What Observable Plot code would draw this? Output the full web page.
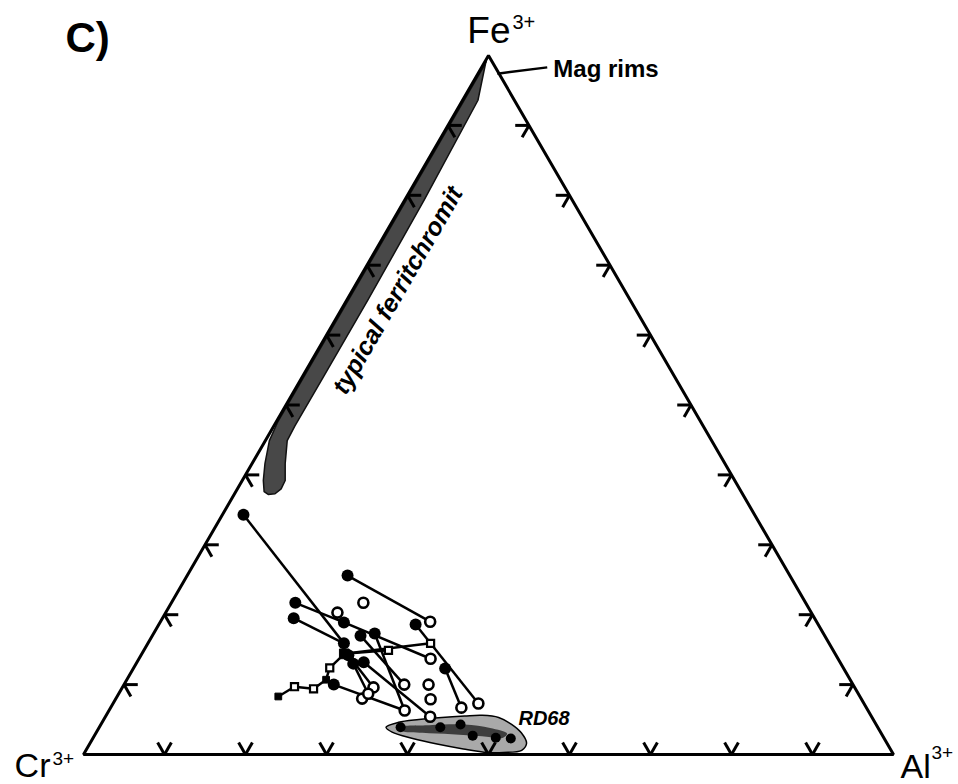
<!DOCTYPE html>
<html><head><meta charset="utf-8">
<script src="https://cdn.jsdelivr.net/npm/d3@7"></script>
<script src="https://cdn.jsdelivr.net/npm/@observablehq/plot@0.6"></script>
<style>body{margin:0;background:#fff;}</style>
</head><body><div id="chart"></div>
<script>
// ---- data (ternary %, Fe3+ and Al3+; Cr3+ = 100 - Fe - Al) ----
const vertexNames = ["Cr", "Al", "Fe"];
const vertexFe = [0, 0, 100];
const vertexAl = [0, 100, 0];
const tickValues = [10, 20, 30, 40, 50, 60, 70, 80, 90];

const pointId   = ["P1","P2","P3","P4","P5","P6","P7","P8","P9","P10","P11","P12","P13","P14","P15","P16","P17","P18","P19","P20","P21","P22","P23","P24","P25","P26","P27","P28","S1","S2","S3","S4","S5","S6","S7","S8"];
const pointType = ["core","core","core","rim","rim","core","core","rim","core","core","rim","core","rim","core","rim","core","core","core","rim","rim","rim","core","rim","core","rim","rim","rim","rim","sqCore","sqRim","sqRim","sqCore","sqRim","sqBig","sqRim","sqRim"];
const pointFe   = [34.3,15.9,25.6,19.0,21.7,21.7,18.9,13.7,19.5,17.3,6.3,17.0,10.0,10.0,8.0,14.2,13.0,13.2,9.6,8.7,5.4,18.6,7.3,12.3,6.7,10.0,7.9,20.3,8.3,9.7,9.4,10.7,12.4,14.4,14.9,15.9];
const pointAl   = [2.6,24.2,19.8,33.3,23.7,15.3,22.7,36.0,16.2,27.3,36.5,25.7,34.6,25.9,30.4,25.6,26.8,28.0,31.0,30.8,40.1,31.7,45.1,38.5,43.3,37.6,38.9,21.2,19.9,21.2,23.7,24.6,24.2,25.0,30.2,34.9];

const segFrom = ["P1","P3","P6","P7","P9","P10","P12","S1","S2","S3","S4","P14","S4","S5","S6","S6","P16","P17","P18","P22","P24"];
const segTo   = ["P2","P4","P7","P8","P2","P11","P13","S2","S3","S4","P14","P11","S5","S6","S7","S8","P19","P20","P21","P23","P25"];

// RD68 field
const rd68Fe = [3.9,4.6,5.0,5.3,5.5,5.6,5.3,4.3,3.1,1.6,0.6,0.3,0.3,0.8,1.5,2.3,3.2];
const rd68Al = [35.4,36.6,38.9,41.6,44.3,46.4,48.6,50.7,52.5,53.9,53.8,51.7,49.7,46.5,42.9,39.5,36.5];
const rd68CoreFe = [3.9,4.2,4.3,3.8,3.0,2.4,2.6,2.9,3.1,3.4];
const rd68CoreAl = [37.2,40.6,44.9,48.3,50.8,50.6,47.9,44.0,40.3,37.6];
const rd68DotFe = [3.9,3.9,4.3,2.7,2.4,2.3];
const rd68DotAl = [37.2,42.1,44.4,46.7,49.7,51.6];

// typical ferritchromit band
const bandFe = [99.5,93.6,79.3,65.0,53.5,47.0,44.9,41.6,39.2,38.0,37.3,37.2,37.6,39.2,41.6,44.9,47.5,99.0];
const bandAl = [0,1.9,2.4,2.6,2.6,2.6,2.7,4.1,5.3,5.4,5.0,4.2,3.5,2.6,1.6,0.5,0.2,0.2];

// annotations
const magLeaderFe = [97.4, 98.3];
const magLeaderAl = [2.4, 8.1];
const magLabel = {fe: 98.0, al: 9.0, text: "Mag rims"};
const bandLabel = {fe: 66.4, al: 5.6, text: "typical ferritchromit"};
const rdLabel = {fe: 5.2, al: 51.1, text: "RD68"};
const panelLabel = "C)";

// ---- helpers ----
const X = d => d.al / 100 + d.fe / 200;
const Y = d => d.fe / 100;
const P = (fe, al) => ({fe, al});

const vertices = vertexNames.map((n, i) => ({name: n, fe: vertexFe[i], al: vertexAl[i]}));
const points = pointId.map((id, i) => ({id, type: pointType[i], fe: pointFe[i], al: pointAl[i]}));
const byId = new Map(points.map(p => [p.id, p]));
const segs = segFrom.map((a, i) => [byId.get(a), byId.get(segTo[i])]);
const rd68 = rd68Fe.map((f, i) => P(f, rd68Al[i]));
const rd68Core = rd68CoreFe.map((f, i) => P(f, rd68CoreAl[i]));
const rd68Dots = rd68DotFe.map((f, i) => P(f, rd68DotAl[i]));
const band = bandFe.map((f, i) => P(f, bandAl[i]));
const leader = [[P(magLeaderFe[0], magLeaderAl[0]), P(magLeaderFe[1], magLeaderAl[1])]];

const tl = 1.7;
const ticks = [];
for (const t of tickValues) {
  ticks.push([P(0, t), P(tl, t)], [P(0, t), P(tl, t - tl)]);                 // bottom
  ticks.push([P(t, 0), P(t, tl)], [P(t, 0), P(t - tl, tl)]);                 // left
  ticks.push([P(t, 100 - t), P(t, 100 - t - tl)], [P(t, 100 - t), P(t - tl, 100 - t)]); // right
}
const tri = [vertices[0], vertices[1], vertices[2]];

const FONT = "Liberation Sans, Arial, Helvetica, sans-serif";
const lk = {x1: d => X(d[0]), y1: d => Y(d[0]), x2: d => X(d[1]), y2: d => Y(d[1])};

const chart = Plot.plot({
  width: 958, height: 784, margin: 0,
  x: {domain: [0, 1], range: [83, 893], axis: null},
  y: {domain: [0, 1], range: [754, 55], axis: null},
  style: {fontFamily: FONT, background: "white"},
  marks: [
    Plot.line(band, {x: X, y: Y, curve: "linear-closed", fill: "#484848", stroke: "#111", strokeWidth: 1.5}),
    Plot.line(rd68, {x: X, y: Y, curve: "catmull-rom-closed", fill: "#a9a9a9", stroke: "black", strokeWidth: 1.5}),
    Plot.line(rd68Core, {x: X, y: Y, curve: "catmull-rom-closed", fill: "#2a2a2a", fillOpacity: 0.85, stroke: "none"}),
    Plot.dot(rd68Dots, {x: X, y: Y, r: 5, fill: "black"}),
    Plot.line(tri, {x: X, y: Y, curve: "linear-closed", stroke: "black", strokeWidth: 3, strokeLinejoin: "miter"}),
    Plot.link(ticks, {...lk, stroke: "black", strokeWidth: 3}),
    Plot.link(segs, {...lk, stroke: "black", strokeWidth: 2.5}),
    Plot.link(leader, {...lk, stroke: "black", strokeWidth: 2.5}),
    Plot.dot(points.filter(d => d.type === "core"), {x: X, y: Y, r: 6, fill: "black"}),
    Plot.dot(points.filter(d => d.type === "rim"), {x: X, y: Y, r: 5, fill: "white", stroke: "black", strokeWidth: 2.6}),
    Plot.dot(points.filter(d => d.type === "sqRim"), {x: X, y: Y, symbol: "square", r: 4, fill: "white", stroke: "black", strokeWidth: 2.2}),
    Plot.dot(points.filter(d => d.type === "sqCore"), {x: X, y: Y, symbol: "square", r: 3.8, fill: "black", stroke: "black", strokeWidth: 1}),
    Plot.dot(points.filter(d => d.type === "sqBig"), {x: X, y: Y, symbol: "square", r: 5.5, fill: "black", stroke: "black", strokeWidth: 1}),
    // vertex labels
    Plot.text([vertices[2]], {x: X, y: Y, text: d => d.name, textAnchor: "end", dx: 22, dy: -24, fontSize: 37, fill: "black"}),
    Plot.text([vertices[2]], {x: X, y: Y, text: () => "3+", textAnchor: "start", dx: 24, dy: -33, fontSize: 20, fill: "black"}),
    Plot.text([vertices[0]], {x: X, y: Y, text: d => d.name, textAnchor: "end", dx: -33, dy: 12, fontSize: 34, fill: "black"}),
    Plot.text([vertices[0]], {x: X, y: Y, text: () => "3+", textAnchor: "start", dx: -31, dy: 4, fontSize: 19, fill: "black"}),
    Plot.text([vertices[1]], {x: X, y: Y, text: d => d.name, textAnchor: "start", dx: 7, dy: 13, fontSize: 34, fill: "black"}),
    Plot.text([vertices[1]], {x: X, y: Y, text: () => "3+", textAnchor: "start", dx: 38, dy: -2, fontSize: 19, fill: "black"}),
    // annotations
    Plot.text([magLabel], {x: X, y: Y, text: "text", textAnchor: "start", fontSize: 24, fontWeight: "bold", fill: "black"}),
    Plot.text([bandLabel], {x: X, y: Y, text: "text", rotate: -60, fontSize: 25, fontWeight: "bold", fontStyle: "italic", fill: "black"}),
    Plot.text([rdLabel], {x: X, y: Y, text: "text", textAnchor: "start", fontSize: 20, fontWeight: "bold", fontStyle: "italic", fill: "black"}),
    Plot.text([panelLabel], {frameAnchor: "top-left", text: d => d, dx: 65, dy: 22, fontSize: 42, fontWeight: "bold", fill: "black"})
  ]
});
document.getElementById("chart").appendChild(chart);
</script></body></html>
